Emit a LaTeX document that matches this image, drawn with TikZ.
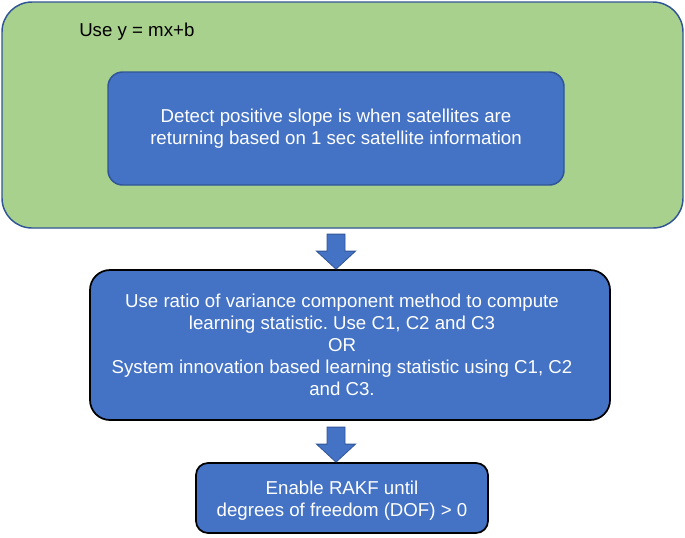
\documentclass[tikz,border=0pt]{standalone}
\usepackage{fontspec}
\setmainfont{Liberation Sans}
\frenchspacing
\definecolor{stepgreen}{HTML}{A9D18E}
\definecolor{stepblue}{HTML}{4472C4}
\definecolor{stepline}{HTML}{2F5597}
\tikzset{
  bluebox/.style={fill=stepblue,text=white,align=center,font=\fontsize{14}{16.5}\selectfont},
  downarrow/.style={fill=stepblue,draw=stepline,line width=0.6pt}
}
% block arrow whose tip sits on the top of a box
\newcommand{\blockarrow}[1]{%
  \draw[downarrow] (#1.north -| 336,0) -- ++(-19.5,-18) -- ++(10.5,0) -- ++(0,-17)
    -- ++(18,0) -- ++(0,17) -- ++(10.5,0) -- cycle;}
\begin{document}
\begin{tikzpicture}[x=0.75pt,y=-0.75pt]
		\useasboundingbox (0,0) rectangle (685,537);
		% outer green block
		\node[draw=stepline,line width=1.1pt,fill=stepgreen,rounded corners=22.5pt,
			minimum width=510.75pt,minimum height=169.5pt] (fit) at (342.5,115) {};
		\node[anchor=west,inner sep=0pt,font=\fontsize{14}{16.5}\selectfont] (line) at (79,32) {Use y = mx+b};
		\node[bluebox,draw=stepline,line width=1.1pt,rounded corners=11pt,
			minimum width=342pt,minimum height=84.75pt] (slope) at (336,128.5)
			{Detect positive slope is when satellites are\\returning based on 1 sec satellite information};
		% learning statistic
		\node[bluebox,draw=black,line width=1.3pt,rounded corners=15pt,
			minimum width=390pt,minimum height=112.5pt] (ratio) at (350,345) {};
		\node[bluebox,fill=none,inner sep=0pt] (ratiotext) at (342,345)
			{Use ratio of variance component method to compute\\learning statistic. Use C1, C2 and C3\\OR\\System innovation based learning statistic using C1, C2\\and C3.};
		% RAKF
		\node[bluebox,draw=black,line width=1.3pt,rounded corners=9pt,
			minimum width=219pt,minimum height=52.5pt] (rakf) at (342,498) {};
		\node[bluebox,fill=none,inner sep=0pt] (rakftext) at (342,501)
			{Enable RAKF until\\degrees of freedom (DOF) > 0};
		% block arrows
		\blockarrow{ratio}
		\blockarrow{rakf}
	\end{tikzpicture}
\end{document}
